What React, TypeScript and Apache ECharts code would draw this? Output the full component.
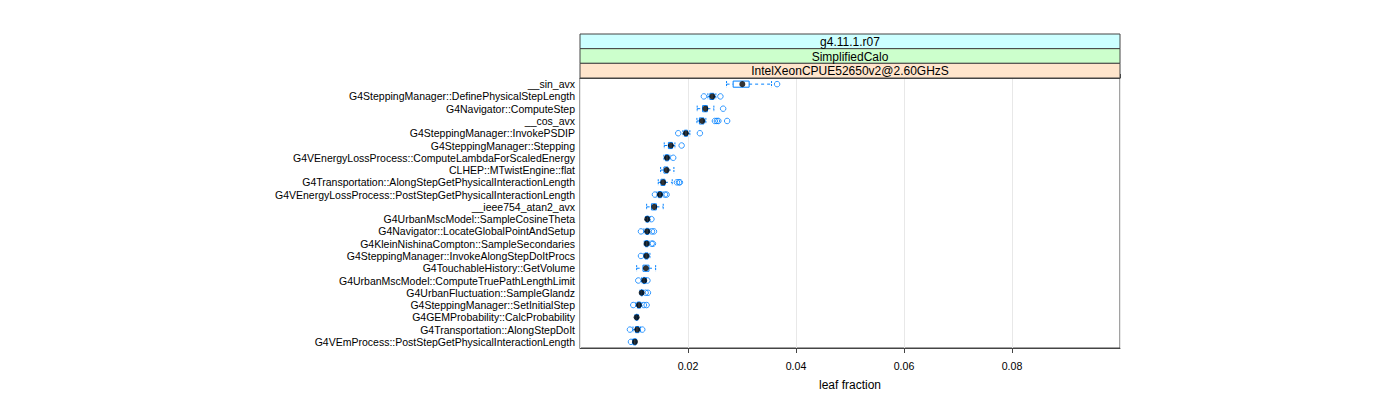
import React, { useEffect, useRef } from "react";
import * as echarts from "echarts";

const categories = [
  "__sin_avx",
  "G4SteppingManager::DefinePhysicalStepLength",
  "G4Navigator::ComputeStep",
  "__cos_avx",
  "G4SteppingManager::InvokePSDIP",
  "G4SteppingManager::Stepping",
  "G4VEnergyLossProcess::ComputeLambdaForScaledEnergy",
  "CLHEP::MTwistEngine::flat",
  "G4Transportation::AlongStepGetPhysicalInteractionLength",
  "G4VEnergyLossProcess::PostStepGetPhysicalInteractionLength",
  "__ieee754_atan2_avx",
  "G4UrbanMscModel::SampleCosineTheta",
  "G4Navigator::LocateGlobalPointAndSetup",
  "G4KleinNishinaCompton::SampleSecondaries",
  "G4SteppingManager::InvokeAlongStepDoItProcs",
  "G4TouchableHistory::GetVolume",
  "G4UrbanMscModel::ComputeTruePathLengthLimit",
  "G4UrbanFluctuation::SampleGlandz",
  "G4SteppingManager::SetInitialStep",
  "G4GEMProbability::CalcProbability",
  "G4Transportation::AlongStepDoIt",
  "G4VEmProcess::PostStepGetPhysicalInteractionLength",
];

const lowerWhisker = [0.02714, 0.02368, 0.0217, 0.02165, 0.01906, 0.0156, 0.01554, 0.01493, 0.01449, 0.01425, 0.01234, 0.01212, 0.01184, 0.0119, 0.01184, 0.01049, 0.01138, 0.0111, 0.01036, 0.01018, 0.00981, 0.00971];
const quartile1 = [0.02836, 0.02405, 0.0227, 0.02211, 0.01933, 0.01637, 0.01582, 0.01554, 0.01499, 0.01452, 0.01323, 0.0123, 0.01221, 0.01212, 0.01203, 0.01166, 0.01166, 0.01129, 0.01064, 0.01036, 0.01027, 0.0099];
const medians = [0.03006, 0.02451, 0.02322, 0.02263, 0.01961, 0.01684, 0.0161, 0.01604, 0.01541, 0.0148, 0.01375, 0.01245, 0.01245, 0.01234, 0.0123, 0.01221, 0.0119, 0.01142, 0.01092, 0.01049, 0.0106, 0.01018];
const quartile3 = [0.03132, 0.02479, 0.02359, 0.02294, 0.01989, 0.01711, 0.01637, 0.01628, 0.01573, 0.01508, 0.01415, 0.01267, 0.01267, 0.01258, 0.01258, 0.01277, 0.01212, 0.01156, 0.01119, 0.01064, 0.01092, 0.01036];
const upperWhisker = [0.03547, 0.02516, 0.02479, 0.02331, 0.02035, 0.01758, 0.01665, 0.01739, 0.01708, 0.01536, 0.01541, 0.01295, 0.01295, 0.01277, 0.01295, 0.01401, 0.0123, 0.01175, 0.01147, 0.01082, 0.01119, 0.01049];
const outlierValues: number[][] = [
  [0.0365],
  [0.02294, 0.026],
  [0.02651],
  [0.02498, 0.02535, 0.02562, 0.02725],
  [0.01819, 0.0222],
  [0.01882],
  [0.01726],
  [],
  [0.01795, 0.01832, 0.0185],
  [0.01388, 0.01573, 0.01604],
  [],
  [0.01323],
  [0.01129, 0.01332, 0.01369],
  [0.01327, 0.01351],
  [0.01129],
  [],
  [0.01079, 0.01249],
  [0.01216, 0.01258],
  [0.00986, 0.01184, 0.01234],
  [],
  [0.00925, 0.01153],
  [0.00944],
];

const stripLabels = ["g4.11.1.r07", "SimplifiedCalo", "IntelXeonCPUE52650v2@2.60GHzS"];
const stripColors = ["#ccffff", "#ccffcc", "#ffe5cc"];
const xTitle = "leaf fraction";

const BLUE = "#0080ff";
const LINE = "#444444";
const FONT = "'Liberation Sans', Arial, Helvetica, sans-serif";

export default function App() {
  const ref = useRef<HTMLDivElement>(null);
  useEffect(() => {
    document.body.style.margin = "0";
    if (!ref.current) return;
    const chart = echarts.init(ref.current, undefined, { renderer: "svg" });

    const boxData = categories.map((_, i) => [i, lowerWhisker[i], quartile1[i], medians[i], quartile3[i], upperWhisker[i]]);
    const medData = categories.map((_, i) => [medians[i], i]);
    const outData: number[][] = [];
    outlierValues.forEach((vals, i) => vals.forEach((v) => outData.push([v, i])));

    const PL = 580, PW = 540, ST = 34, SH = 44 / 3;
    const graphics: any[] = [];
    stripLabels.forEach((lab, k) => {
      graphics.push({
        type: "rect",
        shape: { x: PL, y: ST + k * SH, width: PW, height: SH },
        style: { fill: stripColors[k], stroke: LINE, lineWidth: 1 },
        z: 1,
      });
      graphics.push({
        type: "text",
        x: PL + PW / 2,
        y: ST + k * SH + SH / 2 + 0.5,
        style: { text: lab, font: `12px ${FONT}`, fill: "#000", align: "center", verticalAlign: "middle" },
        z: 2,
      });
    });

    const option: any = {
      animation: false,
      textStyle: { fontFamily: FONT },
      grid: [
        { left: PL, top: 78, width: PW, height: 270, show: true, borderColor: LINE, borderWidth: 1, backgroundColor: "transparent" },
        { left: PL, top: ST, width: PW, height: 44, show: false },
      ],
      xAxis: [
        {
          type: "value",
          gridIndex: 0,
          min: 0,
          max: 0.1,
          interval: 0.02,
          name: xTitle,
          nameLocation: "middle",
          nameGap: 31,
          nameTextStyle: { fontSize: 12, color: "#000", fontFamily: FONT },
          axisLine: { show: true, lineStyle: { color: LINE } },
          axisTick: { show: true, inside: false, length: 5, lineStyle: { color: LINE } },
          axisLabel: { fontSize: 10.6, color: "#000", margin: 12, showMinLabel: false, showMaxLabel: false, formatter: (v: number) => (Math.abs(v) < 1e-9 || Math.abs(v - 0.1) < 1e-9 ? "" : String(+v.toFixed(2))) },
          splitLine: { show: true, lineStyle: { color: "#e8e8e8", width: 1 } },
        },
        {
          type: "value",
          gridIndex: 1,
          position: "top",
          min: 0,
          max: 0.1,
          interval: 0.02,
          axisLine: { show: true, lineStyle: { color: LINE } },
          axisTick: { show: true, inside: false, length: 4, lineStyle: { color: LINE } },
          axisLabel: { show: false },
          splitLine: { show: false },
        },
      ],
      yAxis: [
        {
          type: "category",
          gridIndex: 0,
          data: categories,
          inverse: true,
          axisLine: { show: false },
          axisTick: { show: false },
          axisLabel: { fontSize: 10.5, color: "#000", margin: 5, interval: 0 },
          splitLine: { show: false },
        },
        { type: "value", gridIndex: 1, show: false, min: 0, max: 1 },
      ],
      series: [
        {
          type: "custom",
          xAxisIndex: 0,
          yAxisIndex: 0,
          data: boxData,
          encode: { x: [1, 2, 3, 4, 5], y: 0 },
          renderItem: (params: any, api: any) => {
            const idx = api.value(0);
            const pLw = api.coord([api.value(1), idx]);
            const pQ1 = api.coord([api.value(2), idx]);
            const pQ3 = api.coord([api.value(4), idx]);
            const pUw = api.coord([api.value(5), idx]);
            const band = api.size([0, 1])[1];
            const h = band * 0.5;
            const y = pLw[1];
            const dash = { stroke: BLUE, lineWidth: 1, lineDash: [3, 3], fill: "none" };
            const cap = { stroke: BLUE, lineWidth: 1, lineDash: [2, 1], fill: "none" };
            return {
              type: "group",
              children: [
                { type: "line", shape: { x1: pLw[0], y1: y, x2: pQ1[0], y2: y }, style: dash },
                { type: "line", shape: { x1: pQ3[0], y1: y, x2: pUw[0], y2: y }, style: dash },
                { type: "line", shape: { x1: pLw[0], y1: y - h / 2, x2: pLw[0], y2: y + h / 2 }, style: cap },
                { type: "line", shape: { x1: pUw[0], y1: y - h / 2, x2: pUw[0], y2: y + h / 2 }, style: cap },
                {
                  type: "rect",
                  shape: { x: pQ1[0], y: y - h / 2, width: Math.max(pQ3[0] - pQ1[0], 1), height: h },
                  style: { fill: "none", stroke: BLUE, lineWidth: 1 },
                },
              ],
            };
          },
          z: 2,
        },
        {
          type: "scatter",
          xAxisIndex: 0,
          yAxisIndex: 0,
          data: outData,
          symbol: "circle",
          symbolSize: 5.5,
          itemStyle: { color: "transparent", borderColor: BLUE, borderWidth: 1 },
          z: 3,
        },
        {
          type: "scatter",
          xAxisIndex: 0,
          yAxisIndex: 0,
          data: medData,
          symbol: "circle",
          symbolSize: 6,
          itemStyle: { color: "#000" },
          z: 4,
        },
      ],
      graphic: graphics,
    };
    chart.setOption(option);
    return () => chart.dispose();
  }, []);
  return <div ref={ref} style={{ width: 1400, height: 400 }} />;
}
